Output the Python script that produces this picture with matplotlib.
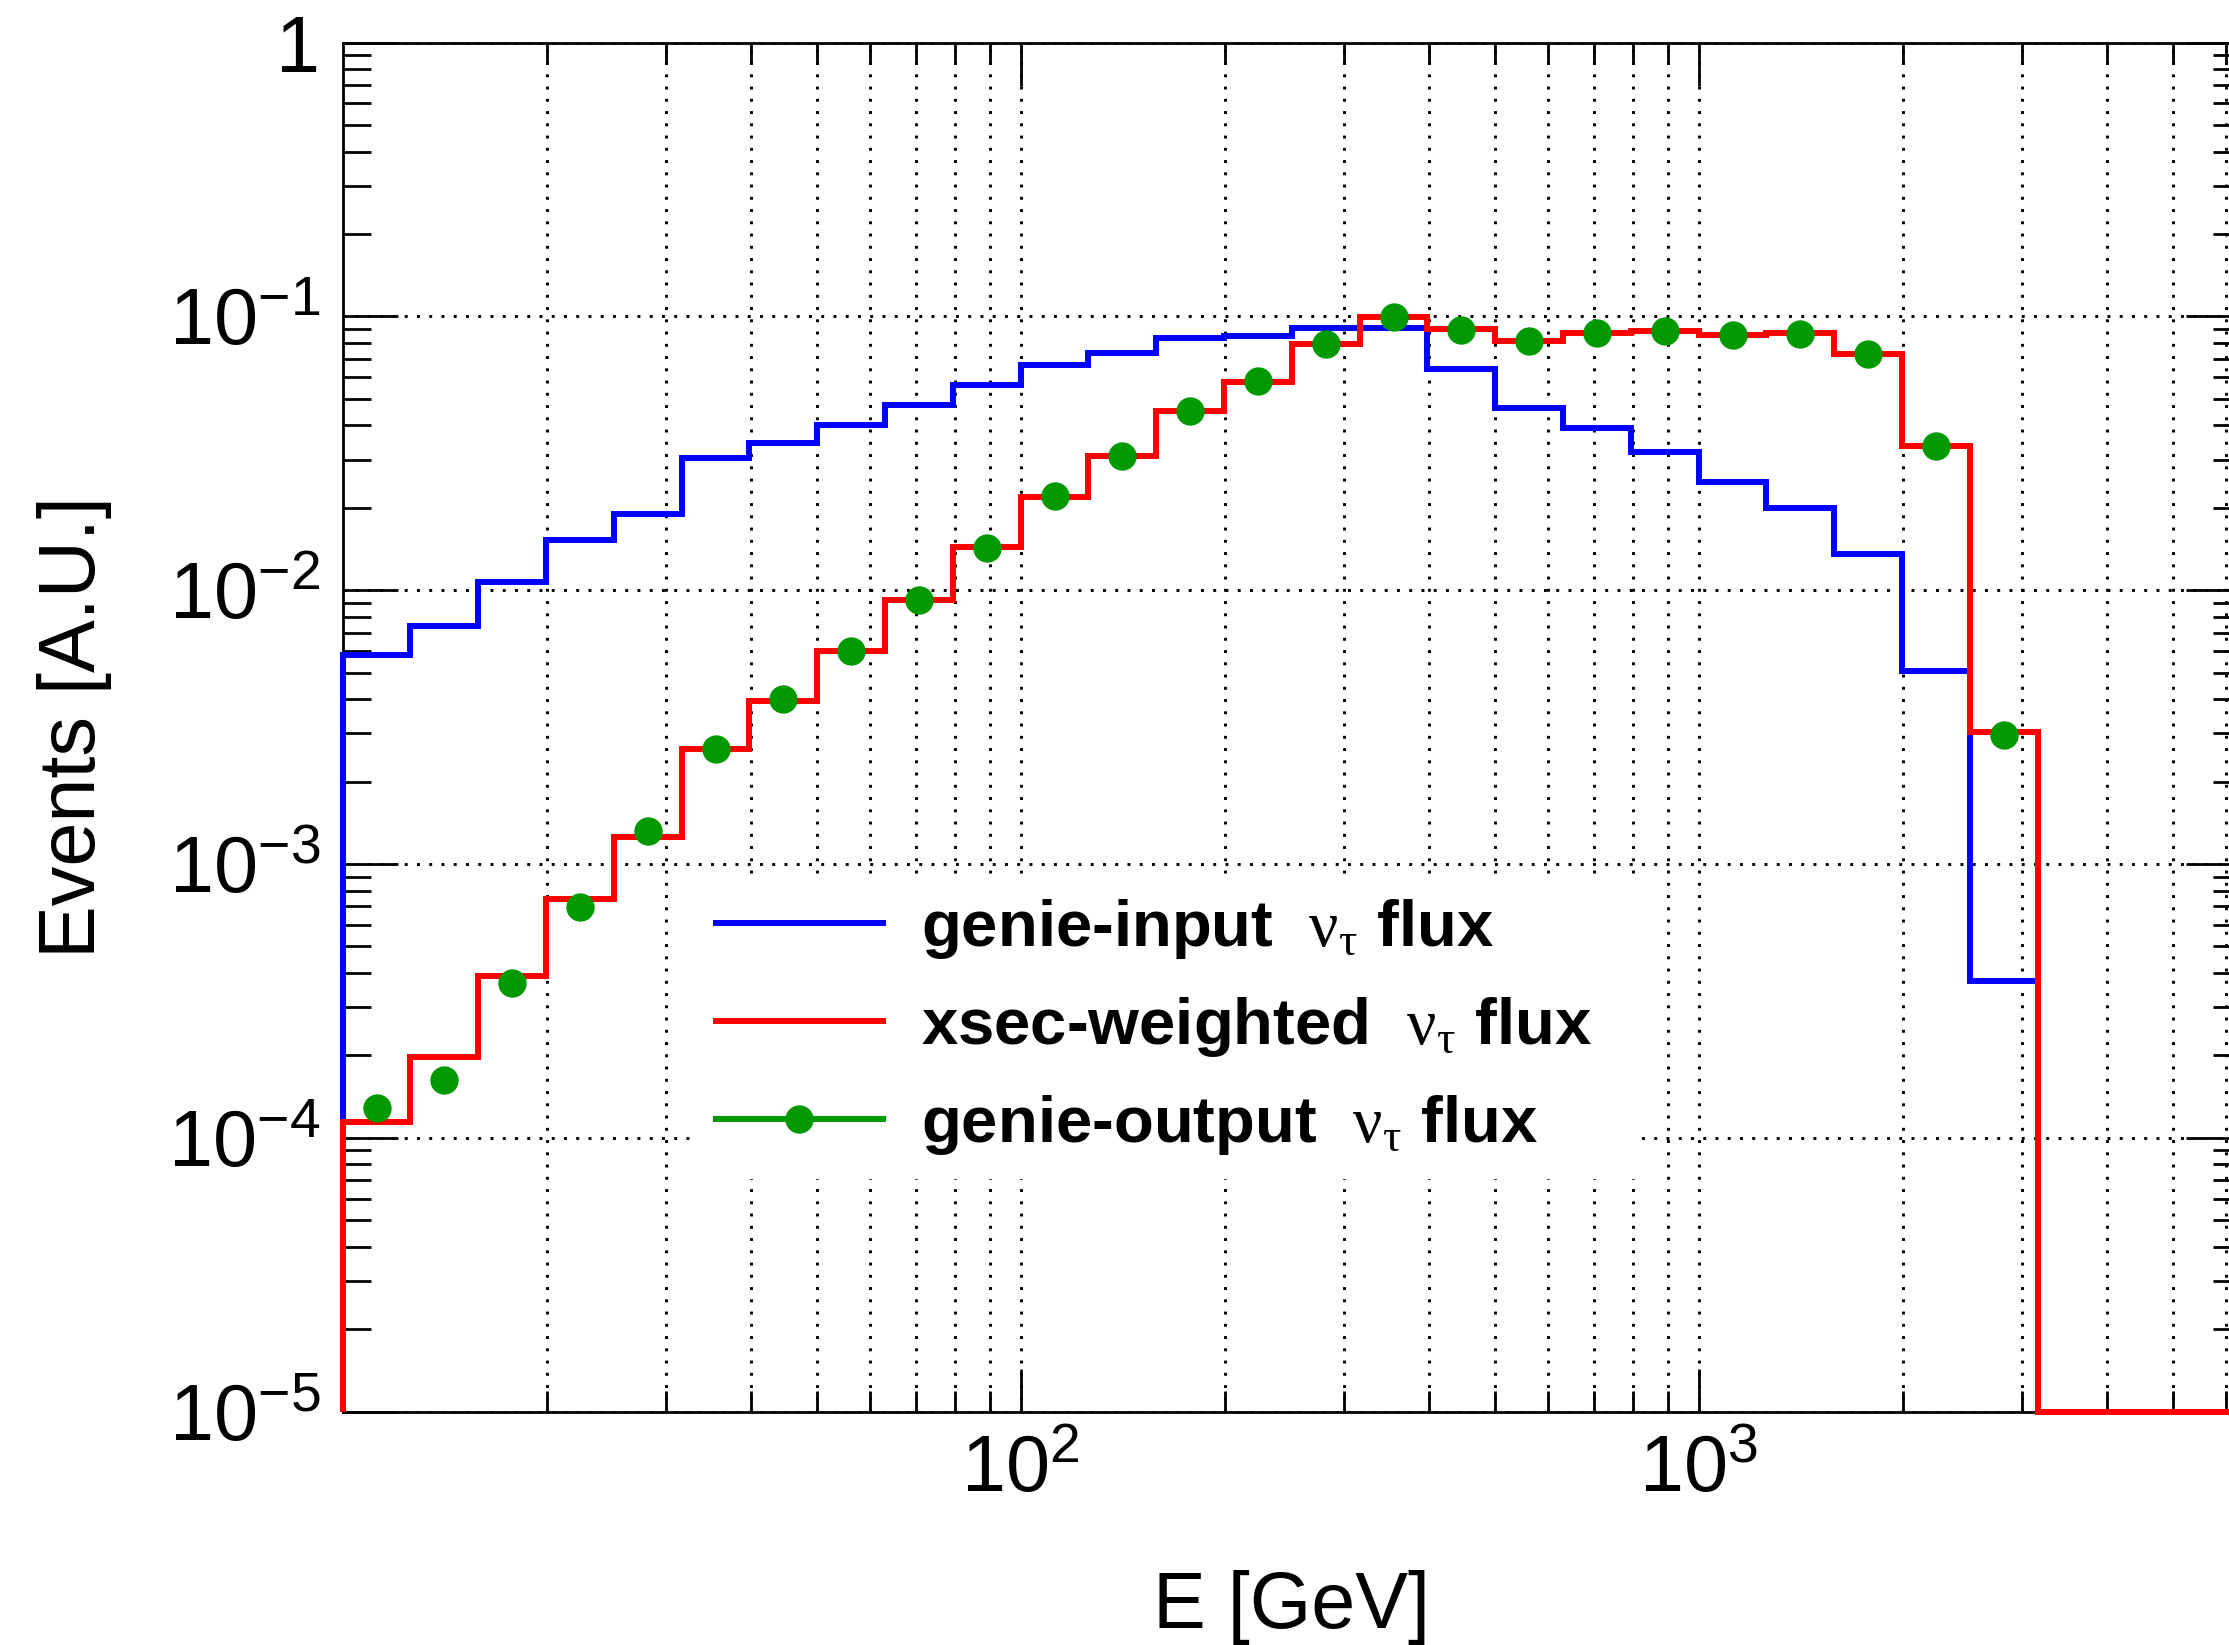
import numpy as np
import matplotlib
matplotlib.use("Agg")
import matplotlib.pyplot as plt
from matplotlib.lines import Line2D
from matplotlib.ticker import FixedLocator, LogLocator, NullFormatter, FuncFormatter

plt.rcParams['font.family'] = ['Liberation Sans', 'DejaVu Sans']
plt.rcParams['mathtext.fontset'] = 'custom'
plt.rcParams['mathtext.rm'] = 'Liberation Serif'
plt.rcParams['mathtext.it'] = 'Liberation Serif:italic'
plt.rcParams['mathtext.bf'] = 'Liberation Serif:bold'

# ---- data ----
log_edges = [1.0, 1.1, 1.2, 1.3, 1.4, 1.5, 1.6, 1.7, 1.8, 1.9,
             2.0, 2.1, 2.2, 2.3, 2.4, 2.5, 2.6, 2.7, 2.8, 2.9,
             3.0, 3.1, 3.2, 3.3, 3.4, 3.5, 3.6, 3.7, 3.8]

genie_input = [5.8e-3, 7.4e-3, 1.07e-2, 1.52e-2, 1.90e-2, 3.03e-2, 3.45e-2, 4.0e-2,
               4.73e-2, 5.62e-2, 6.64e-2, 7.33e-2, 8.36e-2, 8.47e-2, 9.04e-2, 9.04e-2,
               6.43e-2, 4.62e-2, 3.92e-2, 3.19e-2, 2.48e-2, 2.0e-2, 1.36e-2, 5.08e-3,
               3.74e-4, 0.0, 0.0, 0.0]

xsec_weighted = [1.14e-4, 1.97e-4, 3.9e-4, 7.45e-4, 1.25e-3, 2.64e-3, 3.95e-3, 6.0e-3,
                 9.2e-3, 1.44e-2, 2.19e-2, 3.09e-2, 4.52e-2, 5.78e-2, 7.91e-2, 9.97e-2,
                 9.0e-2, 8.15e-2, 8.68e-2, 8.85e-2, 8.55e-2, 8.68e-2, 7.29e-2, 3.36e-2,
                 3.03e-3, 0.0, 0.0, 0.0]

genie_output = [1.28e-4, 1.63e-4, 3.68e-4, 6.99e-4, 1.32e-3, 2.62e-3, 4.0e-3, 6.0e-3,
                9.2e-3, 1.43e-2, 2.2e-2, 3.09e-2, 4.52e-2, 5.8e-2, 7.9e-2, 9.93e-2,
                8.92e-2, 8.13e-2, 8.7e-2, 8.82e-2, 8.58e-2, 8.6e-2, 7.27e-2, 3.36e-2,
                2.95e-3]

labels = [r'genie-input  $\mathrm{\nu}_{\mathrm{\tau}}$ flux',
          r'xsec-weighted  $\mathrm{\nu}_{\mathrm{\tau}}$ flux',
          r'genie-output  $\mathrm{\nu}_{\mathrm{\tau}}$ flux']

x_minor_ticks = [20, 30, 40, 50, 60, 70, 80, 90,
                 200, 300, 400, 500, 600, 700, 800, 900,
                 2000, 3000, 4000, 5000, 6000]
x_major_ticks = [100, 1000]

YMIN, YMAX = 1e-5, 1.0

# ---- figure ----
W, H = 2229, 1645
fig = plt.figure(figsize=(W / 100, H / 100), dpi=100)
ax = fig.add_axes([342.6 / W, 233.4 / H, (2241 - 342.6) / W, 1369 / H])
ax.set_xscale('log')
ax.set_yscale('log')

edges = 10.0 ** np.array(log_edges)
centers = np.sqrt(edges[:-1] * edges[1:])

blue = np.clip(np.array(genie_input), YMIN, None)
red = np.clip(np.array(xsec_weighted), YMIN, None)

lw = 4.3
ax.stairs(blue, edges, baseline=YMIN, color='#0000ff', lw=lw, zorder=3, clip_on=False)
ax.stairs(red, edges, baseline=YMIN, color='#ff0000', lw=lw, zorder=3.1, clip_on=False)
ax.plot(centers[:len(genie_output)], genie_output, 'o', color='#009900', ms=19.4,
        mec='#009900', zorder=4, clip_on=False)

ax.set_xlim(edges[0], edges[-1])
ax.set_ylim(YMIN, YMAX)

# ticks
ax.xaxis.set_major_locator(FixedLocator(x_major_ticks))
ax.xaxis.set_minor_locator(FixedLocator(x_minor_ticks))
ax.yaxis.set_major_locator(LogLocator(base=10, numticks=20))
ax.yaxis.set_minor_locator(LogLocator(base=10, subs=np.arange(2, 10), numticks=50))


def logfmt(v, pos):
    e = int(round(np.log10(v)))
    if e == 0:
        return '1'
    return r'$\mathregular{10^{%d}}$' % e


ax.xaxis.set_major_formatter(FuncFormatter(logfmt))
ax.yaxis.set_major_formatter(FuncFormatter(logfmt))
ax.xaxis.set_minor_formatter(NullFormatter())
ax.yaxis.set_minor_formatter(NullFormatter())

ax.tick_params(which='both', direction='in', top=True, right=True, width=2, labelsize=57)
ax.tick_params(axis='y', which='major', length=39.6, pad=16)
ax.tick_params(axis='y', which='minor', length=20)
ax.tick_params(axis='x', which='major', length=31, pad=16)
ax.tick_params(axis='x', which='minor', length=15)

for s in ax.spines.values():
    s.set_linewidth(2)
    s.set_zorder(2.5)

grid_kw = dict(color='black', lw=2.1, linestyle=(0, (1, 3.2)))
ax.grid(True, which='major', axis='y', **grid_kw)
ax.grid(True, which='both', axis='x', **grid_kw)
ax.set_axisbelow(True)

# labels
ax.set_xlabel('E [GeV]', fontsize=57)
ax.xaxis.set_label_coords(0.5, -0.158)
ax.xaxis.label.set_va('baseline')
ax.set_ylabel('Events [A.U.]', fontsize=57)
ax.yaxis.set_label_coords(-0.1215, 0.5)

# legend
handles = [Line2D([], [], color='#0000ff', lw=lw),
           Line2D([], [], color='#ff0000', lw=lw),
           Line2D([], [], color='#009900', lw=lw, marker='o', ms=19.4)]
leg = ax.legend(handles, labels, loc='upper left',
                bbox_to_anchor=(694 / W, 1 - 875 / H, 948 / W, 0.0),
                bbox_transform=fig.transFigure, mode='expand', borderaxespad=0,
                borderpad=0.33, handlelength=2.57, handletextpad=0.57, labelspacing=0.525,
                prop={'family': 'Liberation Sans', 'weight': 'bold', 'size': 47},
                frameon=True, fancybox=False, facecolor='white', edgecolor='none',
                framealpha=1)

fig.savefig('out.png', dpi=100)
